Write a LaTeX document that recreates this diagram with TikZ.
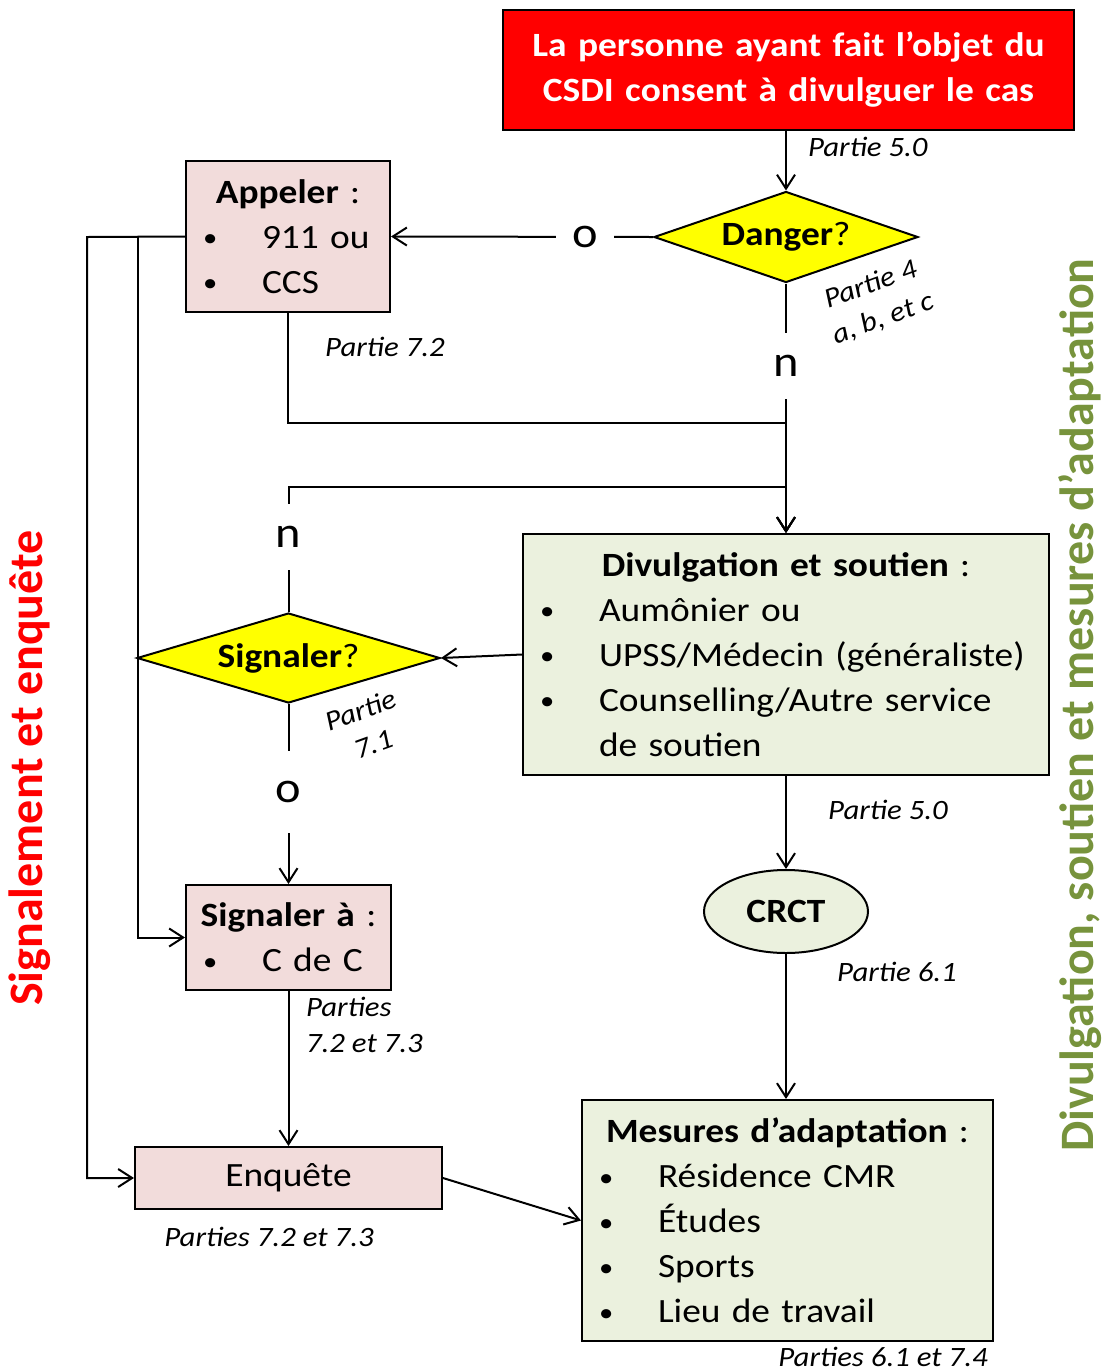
\documentclass[tikz,border=0pt]{standalone}
\usepackage{fontspec}
\setmainfont{Carlito}[FakeStretch=1.1]
\newfontfamily\sidefont{Carlito}
\usepackage{tikz}
\usetikzlibrary{shapes.geometric, arrows.meta}

\definecolor{boxred}{HTML}{FF0000}
\definecolor{boxpink}{HTML}{F2DCDB}
\definecolor{boxgreen}{HTML}{EBF1DE}
\definecolor{boxyellow}{HTML}{FFFF00}
\definecolor{sidegreen}{HTML}{77933C}

\newcommand\bodysize{\fontsize{17}{22.5}\selectfont}
\newcommand\notesize{\fontsize{14}{18}\selectfont\itshape}
\newcommand\itm[1]{\makebox[29.5pt][l]{\raisebox{0.8pt}{\fontsize{13}{13}\selectfont\textbullet}}#1}
\newcommand\boxhead[1]{\leavevmode\hbox to\hsize{\hss#1\hss}\par}

\begin{document}
\begin{tikzpicture}[x=0.5pt, y=-0.5pt, line width=1pt,
    box/.style={draw, inner xsep=8.5pt, inner ysep=0pt, align=left, font=\bodysize},
    dia/.style={diamond, draw, fill=boxyellow, inner sep=0pt, font=\bodysize},
    lbl/.style={fill=white, font=\fontsize{22}{26}\selectfont, inner xsep=8pt, inner ysep=11pt},
    note/.style={font=\notesize, inner sep=0pt},
    side/.style={rotate=90, font=\sidefont\bfseries\fontsize{24}{28}\selectfont},
    arr/.style={-{Straight Barb[length=7pt,width=9pt]}}]
            \useasboundingbox (0,0) rectangle (1104,1372);

            % draw boxes and decisions
            \node[box, fill=boxred, text=white, text width=268.5pt, minimum height=60pt,
                  align=center, font=\bodysize\bfseries, line width=1.3pt] (start) at (788.5,70)
                  {La personne ayant fait l’objet du\\CSDI consent à divulguer le cas};
            \node[dia, aspect=2.9, minimum width=132pt, minimum height=45.5pt] (danger) at (786,237) {\textbf{Danger}?};
            \node[box, fill=boxpink, text width=85pt, minimum height=75.5pt] (appeler) at (288,236.5)
                  {\boxhead{\textbf{Appeler} :}\itm{911 ou}\\\itm{CCS}};
            \node[box, fill=boxgreen, text width=246pt, minimum height=120.5pt] (divulg) at (786,654.5)
                  {\boxhead{\textbf{Divulgation et soutien} :}\itm{Aumônier ou}\\\itm{UPSS/Médecin (généraliste)}\\\itm{Counselling/Autre service}\\\hspace*{29.5pt}de soutien};
            \node[dia, aspect=3.37, minimum width=151.5pt, minimum height=45pt] (signaler) at (288.5,658) {\textbf{Signaler}?};
            \node[box, fill=boxpink, text width=85.5pt, minimum height=52.5pt] (signala) at (288.5,937.5)
                  {\boxhead{\textbf{Signaler à} :}\itm{C de C}};
            \node[box, fill=boxpink, minimum width=153.5pt, minimum height=31pt, align=center] (enquete) at (288.5,1178) {Enquête};
            \node[ellipse, draw, fill=boxgreen, minimum width=82pt, minimum height=41.5pt, inner sep=0pt,
                  font=\bodysize\bfseries] (crct) at (786,911.5) {CRCT};
            \node[box, fill=boxgreen, text width=188.5pt, minimum height=120.5pt] (mesures) at (787.5,1220.5)
                  {\boxhead{\textbf{Mesures d’adaptation} :}\itm{Résidence CMR}\\\itm{Études}\\\itm{Sports}\\\itm{Lieu de travail}};

            % junctions of the merging lines
            \coordinate (j1) at (786,423);
            \coordinate (j2) at (786,487);
            \coordinate (rail) at (87,237);
            \coordinate (tap) at (138,237);

            % draw arrows
            \draw[arr] (start.south -| danger.north) -- (danger.north);
            \draw[arr] (danger.west) -- node[lbl, pos=0.26] {o} (appeler.east);
            \draw[arr] (danger.south) -- node[lbl, pos=0.33] {n} (divulg.north);
            \draw[arr] (appeler.south) |- (j1) -- (divulg.north);
            \draw[arr] (signaler.north) -- node[lbl, pos=0.6] {n} (signaler.north |- j2) -- (j2) -- (divulg.north);
            \draw[arr] (divulg.west) -- (signaler.east);
            \draw[arr] (signaler.south) -- node[lbl, pos=0.49, inner ysep=15pt] {o} (signala.north);
            \draw[arr] (appeler.west) -- (rail) |- (enquete.west);
            \draw[arr] (tap) |- (signala.west);
            \draw[arr] (signala.south) -- (enquete.north);
            \draw[arr] (enquete.east) -- (mesures.west);
            \draw[arr] (divulg.south) -- (crct.north);
            \draw[arr] (crct.south) -- (crct.south |- mesures.north);

            % draw section notes
            \node[note, anchor=west] (n50a) at (807,147) {Partie 5.0};
            \node[note, rotate=20, align=center] (n4) at (877,302) {Partie 4\\a, b, et c};
            \node[note] (n72) at (385,347) {Partie 7.2};
            \node[note, rotate=20, align=center] (n71) at (367,727) {Partie\\7.1};
            \node[note, anchor=north west, align=left] (n7273a) at (305,996) {Parties\\7.2 et 7.3};
            \node[note] (n7273b) at (269,1237) {Parties 7.2 et 7.3};
            \node[note] (n50b) at (888,810) {Partie 5.0};
            \node[note] (n61) at (897,972) {Partie 6.1};
            \node[note] (n6174) at (883,1357) {Parties 6.1 et 7.4};

            % draw side titles
            \node[side, text=boxred] (sideleft) at (30,768) {Signalement et enquête};
            \node[side, text=sidegreen] (sideright) at (1080,705) {Divulgation, soutien et mesures d’adaptation};
        \end{tikzpicture}
\end{document}
